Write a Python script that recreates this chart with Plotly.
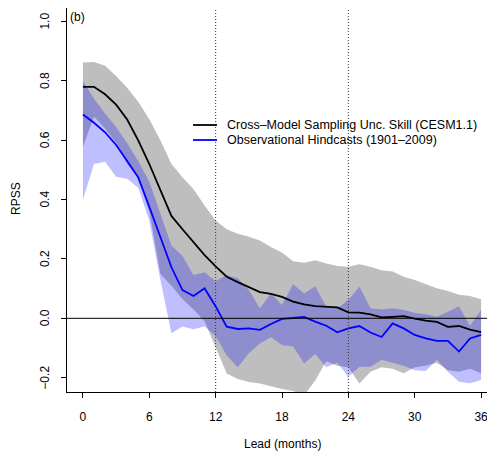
import plotly.graph_objects as go

# ---------------- data ----------------
lead = list(range(0, 37))

model_skill = [0.78, 0.78, 0.755, 0.72, 0.67, 0.60, 0.52, 0.43, 0.345, 0.30, 0.258, 0.213, 0.175,
               0.14, 0.122, 0.106, 0.088, 0.082, 0.072, 0.056, 0.047, 0.041, 0.039, 0.037, 0.020,
               0.019, 0.013, 0.003, 0.005, 0.007, -0.001, -0.008, -0.012, -0.029, -0.026, -0.038, -0.047]
model_upper = [0.862, 0.864, 0.851, 0.817, 0.777, 0.730, 0.671, 0.600, 0.520, 0.475, 0.435, 0.38, 0.33,
               0.30, 0.285, 0.275, 0.262, 0.24, 0.222, 0.192, 0.187, 0.196, 0.185, 0.176, 0.174,
               0.182, 0.174, 0.162, 0.158, 0.14, 0.129, 0.116, 0.101, 0.092, 0.079, 0.075, 0.064]
model_lower = [0.578, 0.68, 0.64, 0.59, 0.52, 0.47, 0.36, 0.15, 0.11, 0.065, 0.03, -0.01, -0.10,
               -0.186, -0.205, -0.215, -0.22, -0.23, -0.238, -0.245, -0.26, -0.21, -0.145, -0.16, -0.165,
               -0.22, -0.18, -0.165, -0.17, -0.185, -0.165, -0.16, -0.15, -0.175, -0.18, -0.17, -0.185]

obs_skill = [0.687, 0.659, 0.627, 0.584, 0.530, 0.475, 0.376, 0.275, 0.172, 0.095, 0.075, 0.101, 0.040,
             -0.028, -0.036, -0.034, -0.039, -0.019, -0.002, 0.001, 0.005, -0.011, -0.025, -0.047, -0.034,
             -0.026, -0.048, -0.063, -0.017, -0.034, -0.056, -0.068, -0.076, -0.076, -0.112, -0.068, -0.056]
obs_upper = [0.80, 0.74, 0.69, 0.645, 0.59, 0.53, 0.46, 0.35, 0.245, 0.21, 0.146, 0.155, 0.125,
             0.146, 0.135, 0.095, 0.034, 0.084, 0.045, 0.115, 0.084, 0.108, 0.039, 0.034, 0.062,
             0.107, 0.034, 0.03, 0.034, 0.028, 0.019, 0.014, 0.005, 0.022, 0.041, -0.025, 0.028]
obs_lower = [0.40, 0.52, 0.528, 0.477, 0.47, 0.44, 0.33, 0.13, -0.05, -0.028, -0.037, -0.028, -0.06,
             -0.125, -0.165, -0.118, -0.085, -0.064, -0.09, -0.095, -0.152, -0.12, -0.165, -0.15, -0.197,
             -0.163, -0.163, -0.14, -0.15, -0.16, -0.175, -0.178, -0.14, -0.18, -0.214, -0.219, -0.208]

x_ticks = [0, 6, 12, 18, 24, 30, 36]
y_ticks = [-0.2, 0.0, 0.2, 0.4, 0.6, 0.8, 1.0]
ref_leads = [12, 24]
ref_level = 0.0

model_name = "Cross–Model Sampling Unc. Skill (CESM1.1)"
obs_name = "Observational Hindcasts (1901–2009)"
panel_label = "(b)"

FONT = "Liberation Sans, Arial, Helvetica, sans-serif"

fig = go.Figure()

# bands
fig.add_trace(go.Scatter(x=lead + lead[::-1], y=model_upper + model_lower[::-1],
                         fill="toself", fillcolor="#BEBEBE", line=dict(width=0),
                         mode="lines", hoverinfo="skip", showlegend=False))
fig.add_trace(go.Scatter(x=lead + lead[::-1], y=obs_upper + obs_lower[::-1],
                         fill="toself", fillcolor="rgba(0,0,255,0.25)", line=dict(width=0),
                         mode="lines", hoverinfo="skip", showlegend=False))

# reference lines
fig.add_hline(y=ref_level, line=dict(color="black", width=1), layer="above")
for v in ref_leads:
    fig.add_vline(x=v, line=dict(color="#333333", width=1, dash="1px,2px"), layer="above")

# skill lines
fig.add_trace(go.Scatter(x=lead, y=model_skill, mode="lines",
                         line=dict(color="black", width=1.8), name=model_name, showlegend=False))
fig.add_trace(go.Scatter(x=lead, y=obs_skill, mode="lines",
                         line=dict(color="blue", width=1.8), name=obs_name, showlegend=False))

# page body has an 8px offset; figure sized so the plot box lands where the reference has it
OFF = 8
W, H = 495 - OFF, 452 - OFF
ml, mr, mt, mb = 67 - OFF, 0, 0, 60
pw, ph = W - ml - mr, H - mt - mb
PX_PER_MONTH = 11.06
PX_PER_UNIT = 296.7
ZERO_PY = 318.3  # page pixel of RPSS = 0
LEFT_PX = 67     # page pixel of plot left edge
X_LEFT = -1.44


def px_to_paper_x(px):
    return (px - LEFT_PX) / pw


def py_to_paper_y(py):
    return ((H + OFF) - mb - py) / ph


y_top = (ZERO_PY - (mt + OFF)) / PX_PER_UNIT
y_bot = (ZERO_PY - (H + OFF - mb)) / PX_PER_UNIT

# y tick labels, rotated like R's default (las=0)
for t in y_ticks:
    fig.add_annotation(xref="paper", yref="y", x=px_to_paper_x(45), y=t,
                       text=f"{t:.1f}".replace("-", "−"), showarrow=False, textangle=-90,
                       xanchor="center", yanchor="middle",
                       font=dict(size=12, color="black", family=FONT))

# legend (manual, R style)
legend_items = [(model_name, "black", 125), (obs_name, "blue", 140)]
for name, col, py in legend_items:
    fig.add_shape(type="line", xref="paper", yref="paper",
                  x0=px_to_paper_x(193), x1=px_to_paper_x(217),
                  y0=py_to_paper_y(py), y1=py_to_paper_y(py),
                  line=dict(color=col, width=1.8))
    fig.add_annotation(xref="paper", yref="paper", x=px_to_paper_x(225), y=py_to_paper_y(py),
                       text=name, showarrow=False, xanchor="left", yanchor="middle",
                       font=dict(size=12.5, color="black", family=FONT))

# panel label
fig.add_annotation(xref="paper", yref="paper", x=0, y=1, xanchor="left", yanchor="top",
                   xshift=1, text=panel_label, showarrow=False,
                   font=dict(size=12, color="black", family=FONT))

# axis titles
fig.add_annotation(xref="paper", yref="paper", x=px_to_paper_x(282), y=py_to_paper_y(444),
                   text="Lead (months)", showarrow=False, xanchor="center", yanchor="middle",
                   borderpad=0, font=dict(size=12, color="black", family=FONT))
fig.add_annotation(xref="paper", yref="paper", x=px_to_paper_x(16), y=py_to_paper_y(199),
                   text="RPSS", showarrow=False, xanchor="center", yanchor="middle", textangle=-90,
                   font=dict(size=12, color="black", family=FONT))

fig.update_layout(
    width=W, height=H,
    margin=dict(l=ml, r=mr, t=mt, b=mb, pad=0),
    paper_bgcolor="white", plot_bgcolor="white",
    font=dict(family=FONT, size=12, color="black"),
    showlegend=False,
    xaxis=dict(range=[X_LEFT, X_LEFT + pw / PX_PER_MONTH], tickvals=x_ticks, ticks="outside", ticklen=5,
               tickwidth=1, tickcolor="black", showline=True, linecolor="black", linewidth=1,
               mirror=True, showgrid=False, zeroline=False, ticklabelstandoff=9,
               tickfont=dict(size=12, family=FONT)),
    yaxis=dict(range=[y_bot, y_top], tickvals=y_ticks, ticks="outside", ticklen=5,
               tickwidth=1, tickcolor="black", showline=True, linecolor="black", linewidth=1,
               showgrid=False, zeroline=False, showticklabels=False),
)

fig.write_html("out.html")
